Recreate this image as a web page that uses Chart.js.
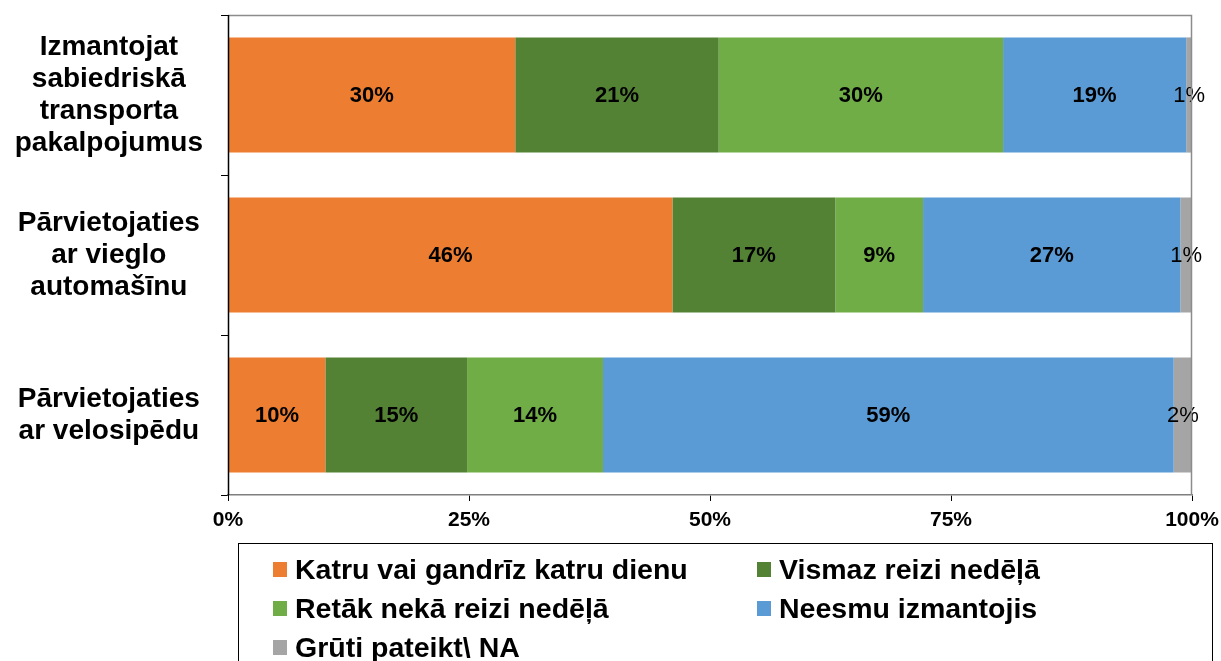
<!DOCTYPE html>
<html>
<head>
<meta charset="utf-8">
<script src="https://cdn.jsdelivr.net/npm/chart.js@4"></script>
<style>
  html, body { margin: 0; padding: 0; background: #fff; }
  #wrap { width: 1221px; height: 661px; position: relative; }
</style>
</head>
<body>
<div id="wrap"><canvas id="usageChart"></canvas></div>
<script>
// categories (y axis, multi-line)
const categories = [
    ["Izmantojat", "sabiedriskā", "transporta", "pakalpojumus"],
    ["Pārvietojaties", "ar vieglo", "automašīnu"],
    ["Pārvietojaties", "ar velosipēdu"]
];

// series values, % of respondents
const dailyValues  = [29.8, 46.1, 10.1];
const weeklyValues = [21.1, 16.9, 14.7];
const rarerValues  = [29.5, 9.1, 14.1];
const neverValues  = [19.0, 26.7, 59.2];
const naValues     = [0.6, 1.2, 1.9];

const seriesNames = [
    "Katru vai gandrīz katru dienu",
    "Vismaz reizi nedēļā",
    "Retāk nekā reizi nedēļā",
    "Neesmu izmantojis",
    "Grūti pateikt\\ NA"
];
const seriesColors = ["#ED7D31", "#548235", "#70AD47", "#5B9BD5", "#A5A5A5"];

// x axis ticks
const xTicks = [0, 25, 50, 75, 100];

const FONT = "'Liberation Sans', Arial, sans-serif";

// labels inside the segments
const barLabels = {
    id: "barLabels",
    afterDatasetsDraw(chart) {
        const ctx = chart.ctx;
        ctx.save();
        ctx.fillStyle = "#000";
        ctx.textAlign = "center";
        ctx.textBaseline = "middle";
        chart.data.datasets.forEach((ds, i) => {
            const meta = chart.getDatasetMeta(i);
            ctx.font = (i === 4 ? "normal " : "bold ") + "22px " + FONT;
            meta.data.forEach((bar, j) => {
                const x = (bar.x + bar.base) / 2;
                ctx.fillText(Math.round(ds.data[j]) + "%", x, bar.y + 1);
            });
        });
        ctx.restore();
    }
};

// plot frame + boxed legend in two columns
const frameAndLegend = {
    id: "frameAndLegend",
    afterDraw(chart) {
        const ctx = chart.ctx;
        const a = chart.chartArea;
        ctx.save();
        ctx.lineWidth = 1.5;
        ctx.strokeStyle = "#8c8c8c";
        ctx.beginPath();
        ctx.moveTo(a.left, a.top + 0.5);
        ctx.lineTo(a.right - 0.5, a.top + 0.5);
        ctx.lineTo(a.right - 0.5, a.bottom);
        ctx.stroke();
        ctx.strokeStyle = "#000";
        ctx.beginPath();
        ctx.moveTo(a.left + 0.5, a.top);
        ctx.lineTo(a.left + 0.5, a.bottom);
        ctx.stroke();

        // legend box
        ctx.lineWidth = 1;
        ctx.strokeStyle = "#000";
        ctx.strokeRect(238.5, 543.5, 974, 130);
        const cols = [273, 757];
        const rows = [570, 609, 648];
        ctx.font = "bold 28.5px " + FONT;
        ctx.textBaseline = "middle";
        ctx.textAlign = "left";
        chart.data.datasets.forEach((ds, i) => {
            const x = cols[i % 2];
            const y = rows[Math.floor(i / 2)];
            ctx.fillStyle = ds.backgroundColor;
            ctx.fillRect(x, y - 8, 14, 15);
            ctx.fillStyle = "#000";
            ctx.fillText(ds.label, x + 22, y + 1);
        });
        ctx.restore();
    }
};

const ctx = document.getElementById("usageChart").getContext("2d");

new Chart(ctx, {
    type: "bar",
    data: {
        labels: categories,
        datasets: [dailyValues, weeklyValues, rarerValues, neverValues, naValues].map((vals, i) => ({
            label: seriesNames[i],
            data: vals,
            backgroundColor: seriesColors[i],
            borderWidth: 0,
            barPercentage: 0.72,
            categoryPercentage: 1.0
        }))
    },
    options: {
        indexAxis: "y",
        responsive: true,
        maintainAspectRatio: false,
        animation: false,
        layout: {
            padding: { top: 15, right: 29, left: 0, bottom: 126 }
        },
        plugins: {
            legend: { display: false },
            tooltip: { enabled: false }
        },
        scales: {
            x: {
                stacked: true,
                min: 0,
                max: 100,
                afterBuildTicks: scale => {
                    scale.ticks = xTicks.map(v => ({ value: v }));
                },
                afterFit: scale => {
                    scale.height = 40;
                    scale.paddingLeft = 0;
                    scale.paddingRight = 0;
                },
                grid: {
                    drawOnChartArea: false,
                    drawTicks: true,
                    tickLength: 6,
                    color: "#000"
                },
                border: { color: "#7f7f7f", width: 1.5 },
                ticks: {
                    padding: 7,
                    color: "#000",
                    maxRotation: 0,
                    font: { family: FONT, size: 21, weight: "bold" },
                    callback: v => v + "%"
                }
            },
            y: {
                stacked: true,
                afterFit: scale => {
                    scale.width = 228;
                    scale.paddingTop = 0;
                    scale.paddingBottom = 0;
                },
                grid: {
                    offset: true,
                    drawOnChartArea: false,
                    tickLength: 7,
                    color: "#000"
                },
                border: { color: "#000" },
                ticks: {
                    crossAlign: "center",
                    padding: 18,
                    color: "#000",
                    font: { family: FONT, size: 28, weight: "bold", lineHeight: 32 / 28 }
                }
            }
        }
    },
    plugins: [barLabels, frameAndLegend]
});
</script>
</body>
</html>
